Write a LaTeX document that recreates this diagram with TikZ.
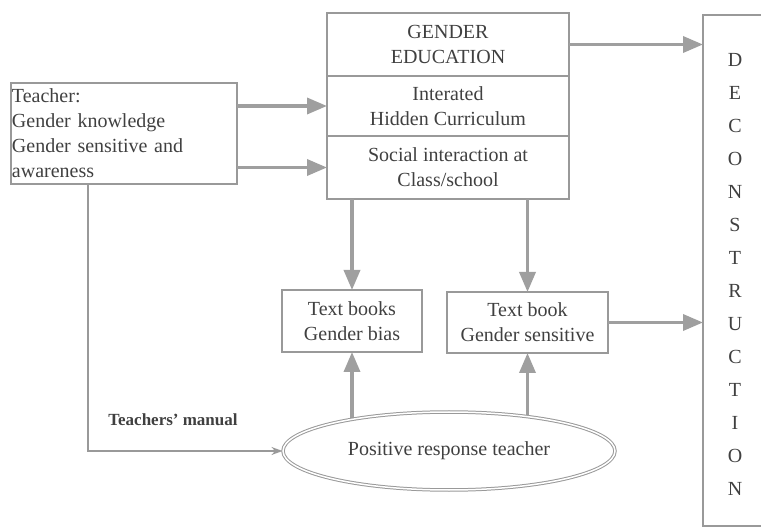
\documentclass[tikz,border=0pt]{standalone}
\usepackage{fontspec}
\setmainfont{Liberation Serif}
\usetikzlibrary{arrows.meta,positioning,shapes.geometric,backgrounds}

\begin{document}
\begin{tikzpicture}[x=1pt,y=-1pt,
   font=\fontsize{20}{25}\selectfont,text=black!75,
   box/.style={draw=gray!80,line width=1.4pt,align=center,inner sep=0pt,outer sep=0pt},
   flow/.style={draw=gray!75,line width=3.5pt,-{Triangle[length=20pt,width=16pt]}},
   thinflow/.style={draw=gray!80,line width=1.3pt,-{Stealth[length=11pt,width=8pt]}}]
   \useasboundingbox (0,0) rectangle (761,529);
   % gender education block
   \node[box,minimum width=242pt,minimum height=63pt] (ge1) at (448,44.5) {GENDER\\EDUCATION};
   \node[box,minimum width=242pt,minimum height=60pt] (ge2) [below=0pt of ge1] {Interated\\Hidden Curriculum};
   \node[box,minimum width=242pt,minimum height=63pt] (ge3) [below=0pt of ge2] {Social interaction at\\Class/school};
   \node[box,minimum width=226pt,minimum height=101pt,align=left,text width=224pt] (teacher) at (124,133.5)
      {Teacher:\\Gender knowledge\\Gender sensitive and\\awareness};
   \node[box,minimum width=140pt,minimum height=62pt] (bias) at (352,321) {Text books\\Gender bias};
   \node[box,minimum width=161pt,minimum height=61pt] (sens) at (527.5,322.5) {Text book\\Gender sensitive};
   \node[ellipse,draw=gray!80,double,double distance=1.5pt,line width=1pt,fill=white,
      minimum width=332pt,minimum height=78pt,inner sep=0pt] (resp) at (449,451) {Positive response teacher};
   \node[box,anchor=north west,minimum width=70pt,minimum height=511pt] (decon) at (703,15) {};
   \node[align=center,font=\fontsize{20}{33}\selectfont] (word) at (735,274.5)
      {D\\E\\C\\O\\N\\S\\T\\R\\U\\C\\T\\I\\O\\N};
   \node[font=\bfseries\fontsize{17}{20}\selectfont] (manual) at (173,420) {Teachers' manual};
   % connectors
   \draw[flow] (teacher.east |- ge2.west) -- (ge2.west);
   \draw[flow] (teacher.east |- ge3.west) -- (ge3.west);
   \draw[flow] (ge1.east) -- (ge1.east -| decon.west);
   \draw[flow] (bias.north |- ge3.south) -- (bias.north);
   \draw[flow] (sens.north |- ge3.south) -- (sens.north);
   \draw[flow] (sens.east) -- (sens.east -| decon.west);
   \begin{scope}[on background layer]
     \draw[flow] (bias.south |- resp.center) -- (bias.south);
     \draw[flow] (sens.south |- resp.center) -- (sens.south);
   \end{scope}
   \draw[thinflow] ([xshift=-36pt]teacher.south) |- (resp.west);
\end{tikzpicture}
\end{document}
